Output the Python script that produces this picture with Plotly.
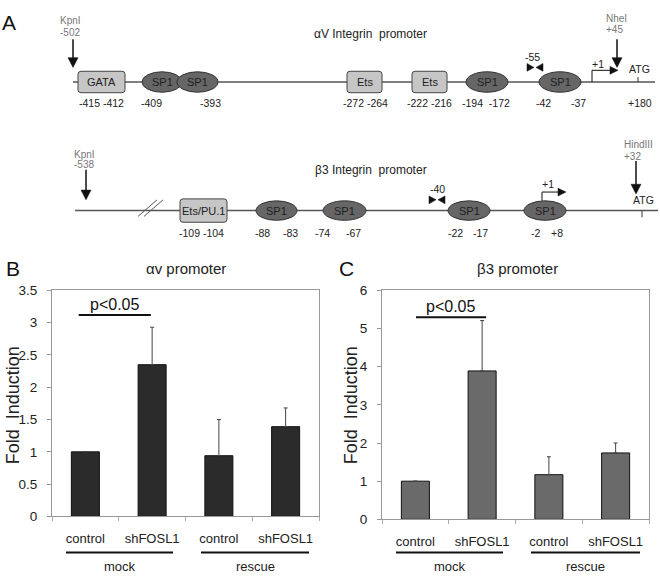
import plotly.graph_objects as go

# ---------------- data ----------------
categories = ["control", "shFOSL1", "control ", "shFOSL1 "]
tick_text = ["control", "shFOSL1", "control", "shFOSL1"]
groups = ["mock", "rescue"]
av_values = [1.0, 2.35, 0.94, 1.39]
av_errors = [0.0, 0.58, 0.56, 0.29]
b3_values = [1.0, 3.89, 1.17, 1.74]
b3_errors = [0.0, 1.32, 0.47, 0.26]
sig_label = "p<0.05"

# schematic content (labels)
av_title = "\u03b1V Integrin  promoter"
b3_title = "\u03b23 Integrin  promoter"
av_box_labels = ["GATA", "Ets", "Ets"]
av_sp1_count = 4
av_pos_labels = ["-415 -412", "-409", "-393", "-272 -264", "-222 -216",
                 "-194  -172", "-42", "-37", "+180"]
b3_box_labels = ["Ets/PU.1"]
b3_sp1_count = 4
b3_pos_labels = ["-109 -104", "-88", "-83", "-74", "-67", "-22", "-17", "-2", "+8"]

# ---------------- layout geometry (schematic, in page pixels) ----------------
W, H = 660, 577
def px(x): return x / W
def py(y): return 1 - y / H

av_line = dict(y=77, x0=73, x1=655)
av_box_x = [(78, 125), (347, 382), (412, 447)]
av_sp1_x = [(142, 182), (177, 218), (466, 508), (539, 581)]
av_pos_x = [101, 151, 210, 365, 429, 486, 543, 578, 640]
b3_line = dict(y=209, x0=75, x1=658)
b3_box_x = [(180, 227)]
b3_sp1_x = [(256, 297), (323, 366), (448, 490), (524, 566)]
b3_pos_x = [201, 262, 290, 322, 353, 455, 480, 535, 557]

fig = go.Figure()

# ---------------- bar charts ----------------
def add_bars(values, errors, color, xa, ya):
    fig.add_trace(go.Bar(
        x=categories, y=values, width=0.42,
        marker=dict(color=color, line=dict(color="#111111", width=1)),
        error_y=dict(type="data", array=errors, arrayminus=[0] * len(errors),
                     symmetric=False, color="#444444", thickness=1, width=2),
        xaxis=xa, yaxis=ya, showlegend=False, hoverinfo="skip"))

add_bars(av_values, av_errors, "#2b2b2b", "x", "y")
add_bars(b3_values, b3_errors, "#6a6a6a", "x2", "y2")

# invisible trace for schematic overlay axis
fig.add_trace(go.Scatter(x=[0], y=[0], mode="markers", marker=dict(opacity=0),
                         xaxis="x3", yaxis="y3", showlegend=False, hoverinfo="skip"))

font_main = "Liberation Sans, Arial, sans-serif"
xcommon = dict(type="category", tickson="boundaries", ticks="outside", ticklen=4,
               tickcolor="#aaa", showline=True, linecolor="#999", linewidth=1,
               mirror=True, showgrid=False, tickvals=categories, ticktext=tick_text,
               tickfont=dict(size=13, color="#222", family=font_main),
               ticklabelstandoff=10, fixedrange=True)
ycommon = dict(ticks="outside", ticklen=4, tickcolor="#999", showline=True,
               linecolor="#999", linewidth=1, mirror=True, showgrid=False,
               zeroline=False, tickfont=dict(size=13.5, color="#222", family=font_main),
               ticklabelstandoff=7, fixedrange=True)

fig.update_layout(
    width=W, height=H, margin=dict(l=0, r=0, t=0, b=0),
    paper_bgcolor="white", plot_bgcolor="rgba(0,0,0,0)",
    font=dict(family=font_main, color="#222"),
    xaxis=dict(domain=[px(52), px(319)], anchor="y", **xcommon),
    yaxis=dict(domain=[py(523), py(291)], anchor="x", range=[0, 3.5], dtick=0.5, **ycommon),
    xaxis2=dict(domain=[px(382), px(649)], anchor="y2", **xcommon),
    yaxis2=dict(domain=[py(526), py(291)], anchor="x2", range=[0, 6], dtick=1, **ycommon),
    xaxis3=dict(domain=[0, 1], range=[0, W], visible=False, anchor="y3", fixedrange=True),
    yaxis3=dict(domain=[0, 1], range=[H, 0], visible=False, anchor="x3", fixedrange=True),
)

shapes = []
ann = []

def text(x, y, s, size=11, color="#222", xanchor="center", ref="x3"):
    ann.append(dict(x=x, y=y, xref=ref, yref=ref.replace("x", "y"), text=s,
                    showarrow=False, xanchor=xanchor, yanchor="middle",
                    font=dict(size=size, color=color, family=font_main)))

def line(x0, y0, x1, y1, color="#555", width=1.5, xref="x3", yref="y3"):
    shapes.append(dict(type="line", x0=x0, y0=y0, x1=x1, y1=y1, xref=xref, yref=yref,
                       line=dict(color=color, width=width)))

def tri(points, color="#111"):
    p = "M " + " L ".join(f"{a},{b}" for a, b in points) + " Z"
    shapes.append(dict(type="path", path=p, xref="x3", yref="y3",
                       fillcolor=color, line=dict(color=color, width=0.5)))

def rbox(x0, x1, yc, h, label):
    y0, y1 = yc - h / 2, yc + h / 2
    r = 3
    p = (f"M {x0+r},{y0} L {x1-r},{y0} Q {x1},{y0} {x1},{y0+r} L {x1},{y1-r} "
         f"Q {x1},{y1} {x1-r},{y1} L {x0+r},{y1} Q {x0},{y1} {x0},{y1-r} "
         f"L {x0},{y0+r} Q {x0},{y0} {x0+r},{y0} Z")
    shapes.append(dict(type="path", path=p, xref="x3", yref="y3",
                       fillcolor="#c6c6c6", line=dict(color="#444", width=1)))
    text((x0 + x1) / 2, yc, label, size=11)

def ellipse(x0, x1, yc, h, label="SP1"):
    shapes.append(dict(type="circle", x0=x0, x1=x1, y0=yc - h / 2, y1=yc + h / 2,
                       xref="x3", yref="y3", fillcolor="#666666",
                       line=dict(color="#333", width=1)))
    text((x0 + x1) / 2, yc, label, size=11)

def down_arrow(x, y0, y1):
    line(x, y0, x, y1 - 8, color="#111", width=1.5)
    tri([(x - 5, y1 - 10), (x + 5, y1 - 10), (x, y1)])

def bowtie(xc, y):
    tri([(xc - 8, y - 4), (xc - 8, y + 4), (xc - 1, y)])
    tri([(xc + 8, y - 4), (xc + 8, y + 4), (xc + 1, y)])

def tss(x, ybase, ytop, xend):
    line(x, ybase, x, ytop, color="#111", width=1)
    line(x, ytop, xend - 6, ytop, color="#111", width=1)
    tri([(xend - 8, ytop - 4), (xend - 8, ytop + 4), (xend, ytop)])

# ---- alpha V promoter ----
text(9, 16, "A", size=21, color="#111")
text(370, 28, av_title, size=12)
line(av_line["x0"], av_line["y"], av_line["x1"], av_line["y"])
for (a, b), lab in zip(av_box_x, av_box_labels):
    rbox(a, b, av_line["y"], 22, lab)
for (a, b) in av_sp1_x[:av_sp1_count]:
    ellipse(a, b, av_line["y"], 21)
for x, lab in zip(av_pos_x, av_pos_labels):
    text(x, 99, lab, size=10.5)
text(58, 14, "KpnI", size=10, color="#777", xanchor="left")
text(58, 26, "-502", size=10, color="#777", xanchor="left")
down_arrow(73, 33, 62)
text(604, 12, "NheI", size=10, color="#777", xanchor="left")
text(604, 23, "+45", size=10, color="#777", xanchor="left")
down_arrow(617, 33, 62)
text(532, 51, "-55", size=10.5)
bowtie(535, 62)
tss(592, 77, 65, 618)
text(598, 59, "+1", size=10.5)
text(639, 64, "ATG", size=10.5)
line(638, 72, 638, 77, color="#333", width=1)

# ---- beta 3 promoter ----
text(371, 167, b3_title, size=12)
line(b3_line["x0"], b3_line["y"], b3_line["x1"], b3_line["y"])
line(138, 215, 157, 198, color="#555", width=1)
line(144, 215, 163, 198, color="#555", width=1)
for (a, b), lab in zip(b3_box_x, b3_box_labels):
    rbox(a, b, b3_line["y"], 24, lab)
for (a, b) in b3_sp1_x[:b3_sp1_count]:
    ellipse(a, b, b3_line["y"], 20)
for x, lab in zip(b3_pos_x, b3_pos_labels):
    text(x, 232, lab, size=10.5)
text(72, 151, "KpnI", size=10, color="#777", xanchor="left")
text(72, 162, "-538", size=10, color="#777", xanchor="left")
down_arrow(86, 167, 198)
text(622, 141, "HindIII", size=10, color="#777", xanchor="left")
text(622, 153, "+32", size=10, color="#777", xanchor="left")
down_arrow(636, 158, 192)
text(437, 187, "-40", size=10.5)
bowtie(437, 198)
tss(542, 199, 190, 566)
text(548, 182, "+1", size=10.5)
text(643, 198, "ATG", size=10.5)
line(642, 209, 642, 216, color="#333", width=1)

# ---- panel B / C decorations ----
text(13, 268, "B", size=21, color="#111")
text(346, 268, "C", size=21, color="#111")
text(186, 268, "\u03b1v promoter", size=15)
text(517, 268, "\u03b23 promoter", size=15)
for xc in (13, 351):
    ann.append(dict(x=px(xc), y=py(409), xref="paper", yref="paper",
                    xanchor="center", yanchor="middle",
                    text="Fold  Induction", textangle=-90, showarrow=False,
                    font=dict(size=18, color="#222", family=font_main)))

# significance bars (data coords)
shapes.append(dict(type="line", xref="x", yref="y", x0=-0.1, x1=0.98, y0=3.12, y1=3.12,
                   line=dict(color="#111", width=2)))
ann.append(dict(x=0.44, y=3.12, xref="x", yref="y", text=sig_label, showarrow=False,
                yanchor="bottom", yshift=0, font=dict(size=16, color="#111", family=font_main)))
shapes.append(dict(type="line", xref="x2", yref="y2", x0=0.01, x1=1.06, y0=5.3, y1=5.3,
                   line=dict(color="#111", width=2)))
ann.append(dict(x=0.53, y=5.3, xref="x2", yref="y2", text=sig_label, showarrow=False,
                yanchor="bottom", yshift=0, font=dict(size=16, color="#111", family=font_main)))

# group underlines and labels
for (a, b), g in zip([(66, 173), (201, 309)], groups):
    line(a, 560, b, 560, color="#111", width=2)
    text((a + b) / 2, 574, g, size=13)
for (a, b), g in zip([(396, 503), (531, 640)], groups):
    line(a, 560, b, 560, color="#111", width=2)
    text((a + b) / 2, 574, g, size=13)

fig.update_layout(shapes=shapes, annotations=ann)
fig.write_html("out.html", config={"displayModeBar": False},
               post_script="document.body.style.margin='0';")
